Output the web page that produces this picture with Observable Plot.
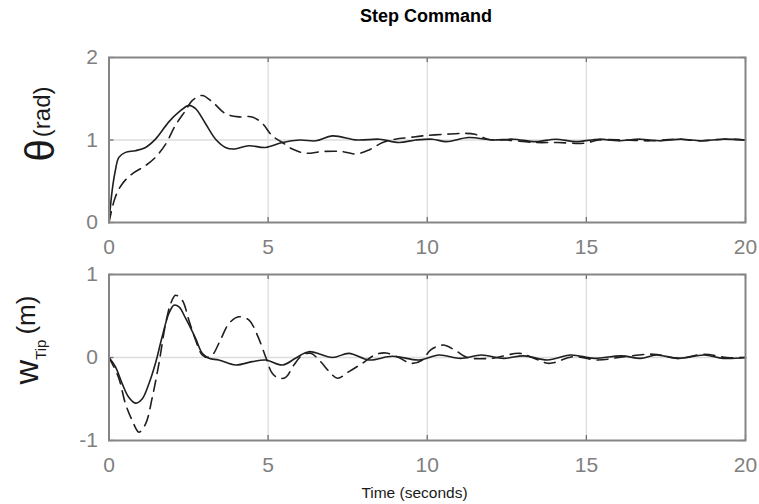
<!DOCTYPE html>
<html>
<head>
<meta charset="utf-8">
<script src="https://cdn.jsdelivr.net/npm/d3@7"></script>
<script src="https://cdn.jsdelivr.net/npm/@observablehq/plot@0.6"></script>
<style>
  html, body { margin: 0; padding: 0; background: white; }
  #wrap { position: relative; width: 759px; height: 504px; background: white; overflow: hidden; }
  #wrap > div, #wrap > svg { position: absolute; left: 0; }
</style>
</head>
<body>
<div id="wrap">
  <div id="top" style="top:0px"></div>
  <div id="bot" style="top:250px"></div>
</div>
<script>
// ---- Data ----
const xTicks = [0, 5, 10, 15, 20];
const xGrid = [5, 10, 15];
const thetaTicks = [0, 1, 2];
const wTicks = [-1, 0, 1];

// Top: theta (rad), solid series
const thSolidT = [0, 0.1, 0.2, 0.31, 0.52, 0.83, 1.15, 1.46, 1.88, 2.2, 2.51, 2.72, 3.03, 3.35, 3.66, 3.9, 4.4, 4.92, 5.45, 6.0, 6.5, 7.02, 7.8, 8.5, 9.11, 9.64, 10.16, 10.6, 11.3, 12.05, 12.7, 13.4, 14.04, 14.67, 15.4, 16.0, 16.7, 17.3, 18.0, 18.6, 19.3, 20];
const thSolid  = [0, 0.39, 0.63, 0.79, 0.85, 0.87, 0.91, 1.01, 1.22, 1.34, 1.42, 1.38, 1.20, 1.01, 0.91, 0.89, 0.93, 0.91, 0.97, 1.0, 0.99, 1.05, 1.0, 1.01, 0.97, 1.0, 1.01, 0.98, 1.03, 1.0, 1.01, 0.98, 1.01, 0.98, 1.01, 0.99, 1.01, 0.99, 1.01, 0.99, 1.01, 1.0];
// Top: theta (rad), dashed series
const thDashT = [0, 0.2, 0.42, 0.73, 1.15, 1.46, 1.78, 2.09, 2.41, 2.62, 2.93, 3.25, 3.66, 4.08, 4.5, 4.82, 5.13, 5.45, 5.76, 6.18, 6.7, 7.33, 7.75, 8.17, 8.6, 9.0, 9.43, 9.85, 10.58, 11.1, 11.5, 11.9, 12.5, 13.4, 14.1, 14.9, 15.4, 16.2, 17.0, 17.8, 18.6, 19.3, 20];
const thDash  = [0, 0.31, 0.47, 0.59, 0.69, 0.79, 0.95, 1.18, 1.36, 1.48, 1.54, 1.46, 1.32, 1.28, 1.28, 1.20, 1.05, 0.97, 0.89, 0.84, 0.86, 0.86, 0.83, 0.88, 0.97, 1.01, 1.03, 1.05, 1.07, 1.08, 1.07, 1.01, 1.0, 0.97, 0.97, 0.96, 1.0, 1.0, 0.99, 1.01, 0.99, 1.01, 1.0];

// Bottom: w_Tip (m), solid series
const wSolidT = [0, 0.2, 0.42, 0.62, 0.83, 1.04, 1.25, 1.46, 1.67, 1.88, 2.04, 2.2, 2.41, 2.72, 2.93, 3.14, 3.45, 3.98, 4.5, 4.92, 5.45, 5.86, 6.28, 7.02, 7.54, 8.17, 8.9, 9.74, 10.37, 11.05, 11.7, 12.4, 13.04, 13.78, 14.5, 15.25, 16.1, 16.7, 17.2, 17.9, 18.7, 19.3, 20];
const wSolid  = [0, -0.11, -0.32, -0.48, -0.55, -0.50, -0.32, -0.07, 0.25, 0.53, 0.63, 0.61, 0.47, 0.23, 0.05, -0.01, -0.03, -0.09, -0.05, -0.03, -0.09, -0.01, 0.07, 0, 0.05, -0.03, 0.015, -0.03, 0.03, -0.01, 0.03, -0.01, 0.02, -0.03, 0.03, -0.01, 0.02, -0.01, 0.03, -0.01, 0.03, -0.01, 0];
// Bottom: w_Tip (m), dashed series
const wDashT = [0, 0.3, 0.52, 0.73, 0.94, 1.15, 1.36, 1.57, 1.78, 1.94, 2.09, 2.3, 2.51, 2.72, 2.93, 3.1, 3.25, 3.5, 3.77, 4.08, 4.4, 4.66, 4.92, 5.13, 5.34, 5.55, 5.81, 6.08, 6.34, 6.65, 6.92, 7.18, 7.54, 7.96, 8.38, 8.7, 9.11, 9.48, 9.85, 10.1, 10.5, 10.9, 11.26, 12.0, 12.9, 13.3, 13.78, 14.0, 14.6, 15.35, 16.2, 17.1, 17.9, 18.7, 19.4, 20];
const wDash  = [0, -0.24, -0.56, -0.76, -0.90, -0.80, -0.48, -0.07, 0.41, 0.65, 0.75, 0.69, 0.45, 0.21, 0.03, 0.0, 0.03, 0.21, 0.41, 0.49, 0.45, 0.27, 0.01, -0.19, -0.25, -0.24, -0.09, 0.03, 0.05, -0.05, -0.17, -0.25, -0.17, -0.07, 0.035, 0.055, 0, -0.07, -0.03, 0.09, 0.15, 0.08, 0, -0.01, 0.05, 0.0, -0.07, -0.06, 0.01, -0.03, 0.01, 0.04, -0.01, 0.04, 0.0, 0];

const titleText = "Step Command";
const xLabelText = "Time (seconds)";

// ---- Styling ----
const FONT = "'Liberation Sans', Arial, Helvetica, sans-serif";
const W = 759, ML = 108.5, MR = 14;
const PW = W - ML - MR;
const frameColor = "#858585";
const gridColor = "#dcdcdc";
const tickColor = "#707070";
const labelGray = "#808080";
const lineColor = "#1f1f1f";

const pts = (ts, vs) => ts.map((t, i) => ({t, v: vs[i]}));

function panel({yDomain, yTicks, yGrid, solid, dashed, height, mt, mb}) {
  const PH = height - mt - mb;
  return Plot.plot({
    width: W, height,
    marginLeft: ML, marginRight: MR, marginTop: mt, marginBottom: mb,
    style: {fontFamily: FONT, background: "transparent", overflow: "visible"},
    x: {domain: [0, 20], ticks: xTicks},
    y: {domain: yDomain, ticks: yTicks},
    marks: [
      Plot.gridX(xGrid, {stroke: gridColor, strokeOpacity: 1, strokeWidth: 1.3}),
      Plot.gridY(yGrid, {stroke: gridColor, strokeOpacity: 1, strokeWidth: 1.3}),
      Plot.tickX(xTicks, {x: d => d, stroke: tickColor, strokeWidth: 1.3, insetBottom: PH - 5}),
      Plot.tickX(xTicks, {x: d => d, stroke: tickColor, strokeWidth: 1.3, insetTop: PH - 5}),
      Plot.tickY(yTicks, {y: d => d, stroke: tickColor, strokeWidth: 1.3, insetRight: PW - 5}),
      Plot.tickY(yTicks, {y: d => d, stroke: tickColor, strokeWidth: 1.3, insetLeft: PW - 5}),
      Plot.line(dashed, {x: "t", y: "v", stroke: lineColor, strokeWidth: 1.6, strokeDasharray: "11,7", curve: "catmull-rom"}),
      Plot.line(solid, {x: "t", y: "v", stroke: lineColor, strokeWidth: 1.6, curve: "catmull-rom"}),
      Plot.frame({stroke: frameColor, strokeWidth: 2}),
      Plot.axisX({ticks: xTicks, tickSize: 0, tickPadding: 17, fontSize: 21, color: labelGray, label: null, tickFormat: d => String(d)}),
      Plot.axisY({ticks: yTicks, tickSize: 0, tickPadding: 11, fontSize: 21, color: labelGray, label: null, tickFormat: d => String(d)})
    ]
  });
}

const topPlot = panel({
  yDomain: [0, 2], yTicks: thetaTicks, yGrid: [1],
  solid: pts(thSolidT, thSolid), dashed: pts(thDashT, thDash),
  height: 272, mt: 57, mb: 50
});
document.getElementById("top").appendChild(topPlot);

const botPlot = panel({
  yDomain: [-1, 1], yTicks: wTicks, yGrid: [0],
  solid: pts(wSolidT, wSolid), dashed: pts(wDashT, wDash),
  height: 254, mt: 24, mb: 64
});
document.getElementById("bot").appendChild(botPlot);

// ---- Text overlay: title, axis labels ----
const svg = d3.select("#wrap").append("svg")
  .attr("width", W).attr("height", 504)
  .style("top", "0px").style("pointer-events", "none")
  .style("font-family", FONT);

svg.append("text")
  .attr("x", 426).attr("y", 22)
  .attr("text-anchor", "middle")
  .attr("font-size", 18).attr("font-weight", "bold").attr("fill", "#000")
  .text(titleText);

svg.append("text")
  .attr("x", 414.5).attr("y", 497.5)
  .attr("text-anchor", "middle")
  .attr("font-size", 15.5).attr("fill", "#1a1a1a")
  .text(xLabelText);

// theta (rad)
const t1 = svg.append("text")
  .attr("transform", "translate(54,124) rotate(-90)")
  .attr("text-anchor", "middle").attr("fill", "#1a1a1a");
t1.append("tspan").attr("font-size", 40).text("θ");
t1.append("tspan").attr("font-size", 24).attr("dy", -4).attr("dx", 2).text("(rad)");

// w_Tip (m)
const t2 = svg.append("text")
  .attr("transform", "translate(38,340) rotate(-90)")
  .attr("text-anchor", "middle").attr("fill", "#1a1a1a");
t2.append("tspan").attr("font-size", 34).text("w");
t2.append("tspan").attr("font-size", 15).attr("dy", 8).text("Tip");
t2.append("tspan").attr("font-size", 26).attr("dy", -11).attr("dx", 5).text("(m)");
</script>
</body>
</html>
